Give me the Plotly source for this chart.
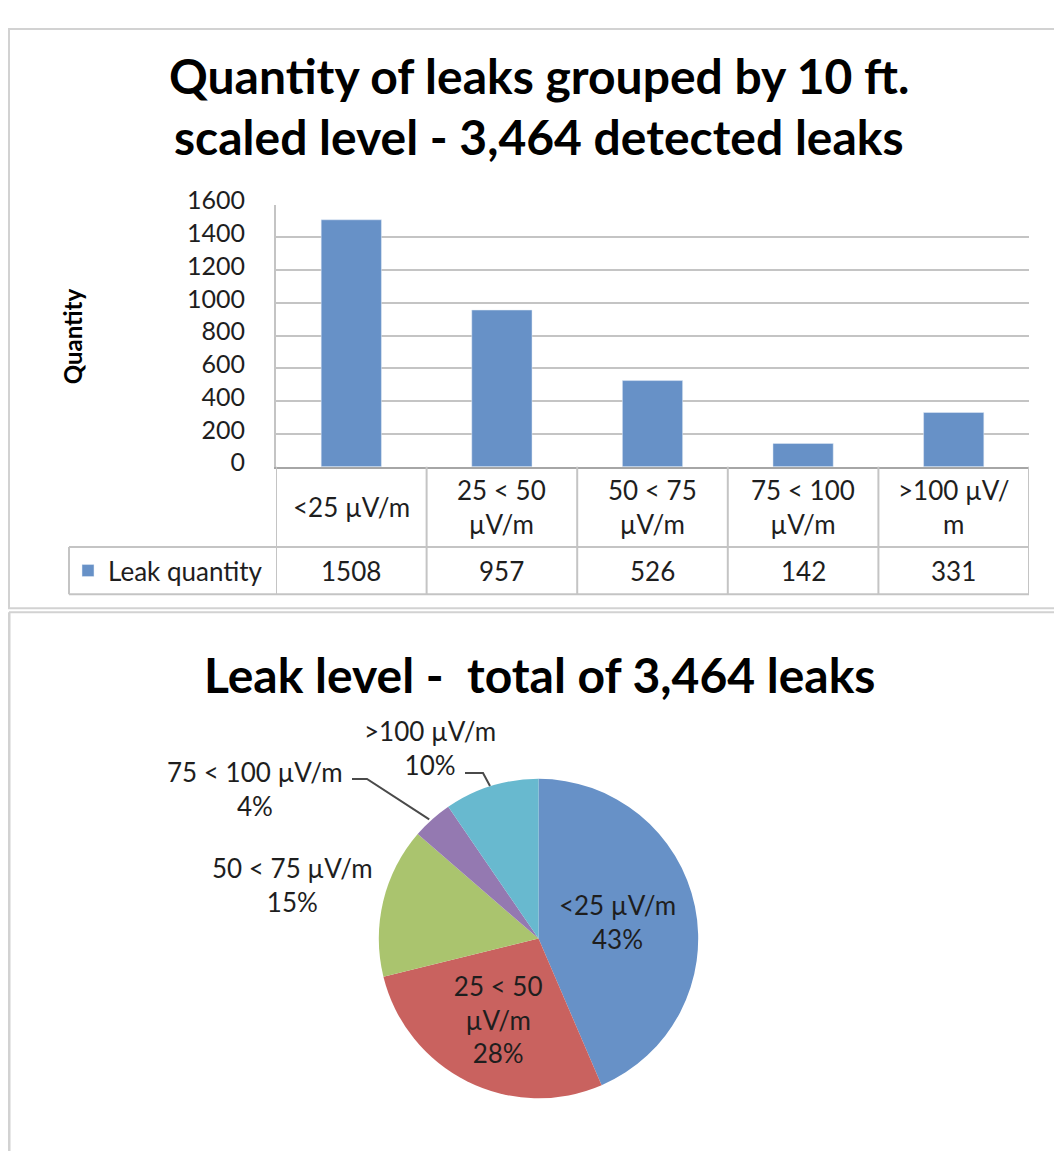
import math
import plotly.graph_objects as go

VW, VH = 1062, 1159       # browser window
OFF = 8                   # default page margin around the figure
W, H = VW - 2 * OFF, VH - 2 * OFF
# the photographed page comes out slightly squashed vertically; compensate
SHIFT, SQUASH = 18.2, 0.97
FONT = "Lato"

# ── data ──
categories = ["<25 µV/m", "25 < 50 µV/m", "50 < 75 µV/m", "75 < 100 µV/m", ">100 µV/m"]
table_labels = ["<25 µV/m", "25 < 50<br>µV/m", "50 < 75<br>µV/m", "75 < 100<br>µV/m", ">100 µV/<br>m"]
leak_qty = [1508, 957, 526, 142, 331]
pie_labels = ["<25 µV/m", "25 < 50<br>µV/m", "50 < 75 µV/m", "75 < 100 µV/m", ">100 µV/m"]
pie_pct = ["43%", "28%", "15%", "4%", "10%"]
pie_colors = ["#6791C7", "#C9625F", "#AAC46E", "#9479B1", "#68B9CF"]
y_ticks = [0, 200, 400, 600, 800, 1000, 1200, 1400, 1600]


def pg_y(p):
    # page pixel -> paper
    return 1 - (p - OFF) / H


def px_x(p):
    return (p - OFF) / W


def page_y(t):
    # wanted picture pixel -> page pixel
    return (t - SHIFT) / SQUASH


def px_y(t):
    return pg_y(page_y(t))


# picture-pixel layout of the bar chart
PL, PR, PT, PB = 276, 1029, 202, 463
ROW1, ROW2 = 543, 590      # bottom of label row / value row
LEG_L = 69
GRID = "#C4C4C4"
TXT = "#1E1E1E"
FRAME = dict(color="#D2D2D2", width=2)
# pie geometry (page pixels)
CX, CY, R = 538.5, page_y(933), 164
INSIDE = [True, True, False, False, False]

fig = go.Figure()
fig.add_trace(go.Bar(
    x=list(range(len(categories))), y=leak_qty, name="Leak quantity",
    marker_color=pie_colors[0], width=0.4, showlegend=True,
    hovertext=categories, xaxis="x", yaxis="y",
))
fig.add_trace(go.Pie(
    labels=categories, values=leak_qty, sort=False, direction="clockwise",
    rotation=0, marker=dict(colors=pie_colors),
    text=[f"{l}<br>{p}" if ins else "" for l, p, ins in zip(pie_labels, pie_pct, INSIDE)],
    textinfo="text", hoverinfo="label+value",
    textposition=["inside" if ins else "none" for ins in INSIDE],
    insidetextorientation="horizontal",
    textfont=dict(family=FONT, size=26, color=TXT),
    domain=dict(x=[px_x(CX - R), px_x(CX + R)], y=[pg_y(CY + R), pg_y(CY - R)]),
    showlegend=False,
))

shapes = []
line = dict(color=GRID, width=2)
# outer frames
shapes.append(dict(type="rect", xref="paper", yref="paper",
                   x0=px_x(9), x1=px_x(1090), y0=px_y(604), y1=pg_y(OFF + 1), line=FRAME))
shapes.append(dict(type="line", xref="paper", yref="paper",
                   x0=px_x(9), x1=px_x(1090), y0=px_y(608), y1=px_y(608), line=FRAME))
shapes.append(dict(type="line", xref="paper", yref="paper",
                   x0=px_x(9), x1=px_x(9), y0=px_y(608), y1=-0.1,
                   line=dict(color="#D2D2D2", width=3)))
# data table grid
for yy in (ROW1, ROW2):
    shapes.append(dict(type="line", xref="paper", yref="paper",
                       x0=px_x(LEG_L), x1=px_x(PR), y0=px_y(yy), y1=px_y(yy), line=line))
shapes.append(dict(type="line", xref="paper", yref="paper",
                   x0=px_x(LEG_L), x1=px_x(LEG_L), y0=px_y(ROW1), y1=px_y(ROW2), line=line))
for i in range(len(categories) + 1):
    shapes.append(dict(type="line", xref="x", yref="paper",
                       x0=i - 0.5, x1=i - 0.5, y0=px_y(PB), y1=px_y(ROW2), line=line))

annotations = []
for i, (lab, q) in enumerate(zip(table_labels, leak_qty)):
    annotations.append(dict(x=i, y=px_y((PB + ROW1) / 2), xref="x", yref="paper",
                            text=lab, showarrow=False, xanchor="center", yanchor="middle",
                            font=dict(family=FONT, size=26, color=TXT)))
    annotations.append(dict(x=i, y=px_y((ROW1 + ROW2) / 2), xref="x", yref="paper",
                            text=str(q), showarrow=False, xanchor="center", yanchor="middle",
                            font=dict(family=FONT, size=26, color=TXT)))
annotations.append(dict(x=px_x(72), y=px_y(333), xref="paper", yref="paper",
                        text="<b>Quantity</b>", textangle=-90, showarrow=False,
                        xanchor="center", yanchor="middle",
                        font=dict(family=FONT, size=24, color="#000")))
for txt, yy in (("Quantity of leaks grouped by 10 ft.", 73),
                ("scaled level - 3,464 detected leaks", 134),
                ("Leak level -  total of 3,464 leaks", 670)):
    annotations.append(dict(x=px_x(539), y=px_y(yy), xref="paper", yref="paper",
                            text=f"<b>{txt}</b>", showarrow=False,
                            xanchor="center", yanchor="middle",
                            font=dict(family=FONT, size=48, color="#000")))

# outside pie labels with leader lines ending at the slice middle
total = sum(leak_qty)
cum = 0
label_pos = {2: (292, 880, None), 3: (255, 784, (352, 367)), 4: (430, 743, (465, 483))}
leader_y = {3: 774, 4: 768}
for i, q in enumerate(leak_qty):
    mid = (cum + q / 2) / total * 2 * math.pi
    cum += q
    if INSIDE[i]:
        continue
    lx, ly, lead = label_pos[i]
    annotations.append(dict(x=px_x(lx), y=px_y(ly), xref="paper", yref="paper",
                            text=f"{pie_labels[i]}<br>{pie_pct[i]}", showarrow=False,
                            xanchor="center", yanchor="middle",
                            font=dict(family=FONT, size=26, color=TXT)))
    if lead:
        tx = CX + R * math.sin(mid)
        ty = CY - R * math.cos(mid)
        yy = leader_y[i]
        path = (f"M{px_x(lead[0])},{px_y(yy)} L{px_x(lead[1])},{px_y(yy)} "
                f"L{px_x(tx)},{pg_y(ty)}")
        shapes.append(dict(type="path", xref="paper", yref="paper", path=path,
                           line=dict(color="#4A4A4A", width=2)))

fig.update_layout(
    width=W, height=H, margin=dict(l=0, r=0, t=0, b=0),
    paper_bgcolor="white", plot_bgcolor="white",
    font=dict(family=FONT, color=TXT),
    xaxis=dict(domain=[px_x(PL), px_x(PR)], range=[-0.5, 4.5], showticklabels=False,
               showgrid=False, zeroline=False, showline=True, linecolor="#A6A6A6",
               linewidth=2, anchor="y", fixedrange=True),
    yaxis=dict(domain=[px_y(PB), px_y(PT)], range=[0, 1600], tickvals=y_ticks,
               showgrid=True, gridcolor=GRID, gridwidth=2, zeroline=False,
               showline=True, linecolor=GRID, linewidth=2, ticks="",
               ticklabelstandoff=24, ticklabelshift=-4,
               tickfont=dict(family=FONT, size=25, color=TXT),
               anchor="x", fixedrange=True),
    legend=dict(x=px_x(68), y=px_y((ROW1 + ROW2) / 2), xanchor="left",
                yanchor="middle", bgcolor="rgba(0,0,0,0)",
                font=dict(family=FONT, size=26, color=TXT)),
    uniformtext=dict(minsize=26, mode="show"),
    shapes=shapes, annotations=annotations,
)

fig.write_html("out.html")
